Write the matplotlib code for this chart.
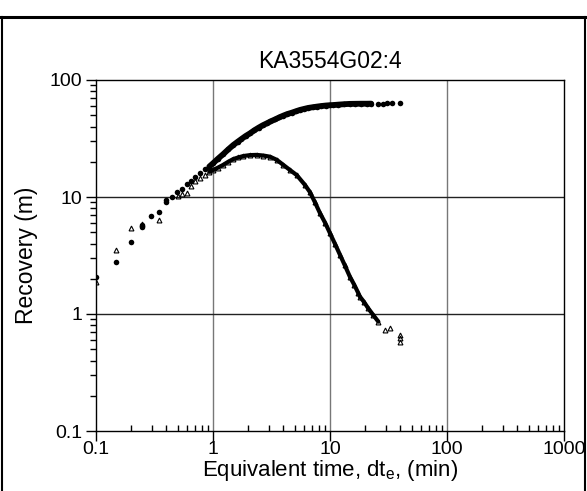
import matplotlib
matplotlib.use("Agg")
import numpy as np
import matplotlib.pyplot as plt
from matplotlib.lines import Line2D
from matplotlib.ticker import LogLocator, NullFormatter, FixedLocator, FixedFormatter

plt.rcParams["font.family"] = ["Liberation Sans", "DejaVu Sans"]

# recovery, circles
t_circ = [0.1, 0.148, 0.198, 0.246, 0.246, 0.295, 0.345, 0.394, 0.394, 0.444,
          0.489, 0.54, 0.595, 0.644, 0.70, 0.774, 0.851, 0.93,
          1.0, 1.1, 1.22, 1.35, 1.49, 1.62, 1.75, 1.9, 2.07, 2.25, 2.45, 2.65,
          2.88, 3.1, 3.4, 3.7, 3.99, 4.3, 4.7, 5.1, 5.54, 6.0, 6.5, 7.1, 7.7,
          8.4, 9.2, 10.0, 10.7, 11.8, 13.2, 14.8, 16.5, 18.5, 20.6, 22.5,
          25.5, 28.2, 30.9, 33.9, 39.6]
r_circ = [2.07, 2.78, 4.15, 5.54, 5.8, 6.9, 7.45, 9.06, 9.4, 10.07,
          10.97, 11.6, 12.8, 13.8, 14.9, 15.9, 17.3, 18.2,
          19.4, 21.2, 23.2, 25.5, 27.8, 29.6, 31.3, 33.2, 35.0, 37.1, 39.1, 40.9,
          42.6, 44.2, 46.1, 48.0, 49.6, 51.1, 52.5, 54.0, 55.5, 56.6, 57.7, 58.5, 59.2,
          59.9, 60.5, 60.9, 61.1, 61.6, 62.1, 62.5, 62.6, 62.7, 62.7, 62.8,
          62.9, 62.9, 63.0, 63.0, 63.0]

# recovery, triangles
t_tri = [0.1, 0.148, 0.198, 0.246, 0.345, 0.50, 0.54, 0.595, 0.65, 0.70, 0.774,
         0.851, 0.93, 1.0, 1.1, 1.22, 1.35, 1.49, 1.65, 1.82, 2.07, 2.36, 2.7,
         3.07, 3.5, 3.99, 4.55, 5.19, 6.1, 6.74, 7.4, 8.22, 9.1, 10.0, 11.0,
         12.2, 13.4, 14.8, 16.1, 17.5, 18.0, 19.5, 21.2, 23.4, 25.9, 29.5,
         32.4, 39.6, 39.6, 39.6]
r_tri = [1.89, 3.52, 5.47, 5.9, 6.35, 10.2, 10.6, 10.9, 12.5, 13.6, 14.5,
         15.5, 16.4, 17.0, 17.8, 18.8, 20.0, 21.1, 21.8, 22.4, 22.8, 22.9, 22.6,
         22.1, 20.8, 18.8, 17.0, 15.4, 12.7, 11.0, 9.1, 7.26, 6.0, 4.9, 4.0,
         3.19, 2.6, 2.08, 1.78, 1.50, 1.41, 1.27, 1.12, 0.98, 0.86, 0.73,
         0.76, 0.66, 0.62, 0.58]

fig = plt.figure(figsize=(5.87, 4.91), dpi=100)
ax = fig.add_axes([96 / 587, 1 - 431 / 491, 468 / 587, 351 / 491])

t_circ = np.array(t_circ)
r_circ = np.array(r_circ)
t_tri = np.array(t_tri)
r_tri = np.array(r_tri)

# dense parts of the record look like a solid band
dc = (t_circ >= 0.9) & (t_circ <= 23)
dt = (t_tri >= 0.9) & (t_tri <= 26)
ax.plot(t_circ[dc], r_circ[dc], "-", color="k", lw=4.2, solid_capstyle="round", zorder=3)
ax.plot(t_tri[dt], r_tri[dt], "-", color="k", lw=3.0, solid_capstyle="round", zorder=3)
ax.plot(t_circ, r_circ, "o", color="k", ms=4, mew=0, zorder=4)
ax.plot(t_tri, r_tri, "^", mfc="none", mec="k", ms=3.5, mew=0.8, zorder=4)

ax.set_xscale("log")
ax.set_yscale("log")
ax.set_xlim(0.1, 1000)
ax.set_ylim(0.1, 100)

xt = [0.1, 1, 10, 100, 1000]
yt = [0.1, 1, 10, 100]
ax.xaxis.set_major_locator(FixedLocator(xt))
ax.xaxis.set_major_formatter(FixedFormatter(["0.1", "1", "10", "100", "1000"]))
ax.yaxis.set_major_locator(FixedLocator(yt))
ax.yaxis.set_major_formatter(FixedFormatter(["0.1", "1", "10", "100"]))
ax.xaxis.set_minor_locator(LogLocator(base=10, subs=np.arange(2, 10)))
ax.yaxis.set_minor_locator(LogLocator(base=10, subs=np.arange(2, 10)))
ax.xaxis.set_minor_formatter(NullFormatter())
ax.yaxis.set_minor_formatter(NullFormatter())

ax.tick_params(axis="x", which="major", direction="out", length=7, width=1, labelsize=14, pad=0)
ax.tick_params(axis="x", which="minor", direction="in", length=4, width=1)
ax.tick_params(axis="y", which="major", direction="out", length=7, width=1, labelsize=14, pad=3)
ax.tick_params(axis="y", which="minor", direction="out", length=4, width=1)

for v in [1, 10, 100]:
    ax.axvline(v, color="#777777", lw=1, zorder=1)
for v in [1, 10]:
    ax.axhline(v, color="#222222", lw=1, zorder=1)

for s in ax.spines.values():
    s.set_linewidth(1)

ax.set_title("KA3554G02:4", fontsize=16.5, pad=9)
ax.set_xlabel("Equivalent time, dt$_\\mathregular{e}$, (min)", fontsize=16, labelpad=0)
ax.set_ylabel("Recovery (m)", fontsize=16.5, labelpad=8)

# outer frame of the figure panel
fig.add_artist(Line2D([0, 1], [1 - 17 / 491] * 2, color="k", lw=2.2, transform=fig.transFigure))
fig.add_artist(Line2D([2 / 587] * 2, [0, 1 - 17 / 491], color="k", lw=1.5, transform=fig.transFigure))
fig.add_artist(Line2D([585 / 587] * 2, [0, 1 - 17 / 491], color="k", lw=1.5, transform=fig.transFigure))

fig.savefig("out.png", dpi=100)
